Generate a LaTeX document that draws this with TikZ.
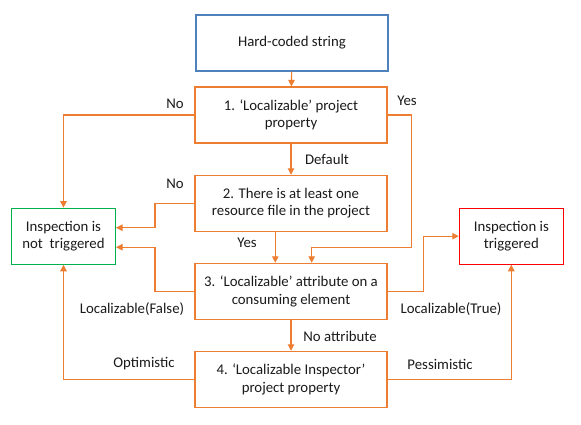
\documentclass[tikz,border=0pt]{standalone}
\usepackage{fontspec}
\setmainfont{Carlito}
\usetikzlibrary{arrows.meta,calc}
\definecolor{lineor}{HTML}{ED7D31}
\definecolor{boxblue}{HTML}{4F81BD}
\definecolor{boxgreen}{HTML}{00B050}
\definecolor{boxred}{HTML}{FF0000}
\definecolor{txt}{HTML}{1A1A1A}
\begin{document}
\begin{tikzpicture}[x=1pt,y=-1pt,
  every node/.style={font=\fontsize{14.8}{17.5}\selectfont, text=txt, align=center},
  stepbox/.style={draw=lineor, line width=1.1pt, minimum width=192pt, minimum height=56pt, inner sep=0pt},
  endbox/.style={line width=1.1pt, minimum width=104pt, minimum height=56pt, inner sep=0pt},
  conn/.style={draw=lineor, line width=1.1pt, -{Triangle[width=6.5pt,length=6.5pt]}},
  lbl/.style={inner sep=0pt}]
\useasboundingbox (0,0) rectangle (581,424);
\node[stepbox, draw=boxblue] (top) at (292,43) {Hard-coded string};
\node[stepbox] (b1) at (291,115) {1. ‘Localizable’ project\\property};
\node[stepbox] (b2) at (291,203.3) {2. There is at least one\\resource file in the project};
\node[stepbox] (b3) at (291,291.3) {3. ‘Localizable’ attribute on a\\consuming element};
\node[stepbox] (b4) at (291,379.3) {4. ‘Localizable Inspector’\\project property};
\node[endbox, draw=boxgreen] (nt) at (63.5,236.2) {Inspection is\\not\ \ triggered};
\node[endbox, draw=boxred] (tr) at (511.3,236.2) {Inspection is\\triggered};
\coordinate (yc) at (411.7,247.5);
\coordinate (c2) at (155,203.3);
\coordinate (c3) at (155,291.3);
\coordinate (c5) at (423.3,291.3);
% connectors
\draw[conn] (top) -- (b1);
\draw[conn] (b1.west) -| (nt.north);
\draw[conn] (b1.east) -| (yc) -| ($(b3.north)+(20.7,0)$);
\draw[conn] (b1) -- (b2);
\draw[conn] (b2.west) -- (c2) |- ($(nt.east)+(0,-8.5)$);
\draw[conn] ($(b2.south)+(-15.7,0)$) -- ($(b3.north)+(-15.7,0)$);
\draw[conn] (b3.west) -- (c3) |- ($(nt.east)+(0,11)$);
\draw[conn] (b3.east) -- (c5) |- (tr.west);
\draw[conn] (b3) -- (b4);
\draw[conn] (b4.west) -| (nt.south);
\draw[conn] (b4.east) -| (tr.south);
% labels
\node[lbl] (lno1) at (175,104) {No};
\node[lbl] (lyes1) at (407,101) {Yes};
\node[lbl] (ldef) at (327,159) {Default};
\node[lbl] (lno2) at (175,184) {No};
\node[lbl] (lyes2) at (247,243) {Yes};
\node[lbl] (lfalse) at (132,309) {Localizable(False)};
\node[lbl] (ltrue) at (451,309) {Localizable(True)};
\node[lbl] (lnoat) at (340,336) {No attribute};
\node[lbl] (lopt) at (144,364) {Optimistic};
\node[lbl] (lpes) at (440,364) {Pessimistic};
\end{tikzpicture}
\end{document}
